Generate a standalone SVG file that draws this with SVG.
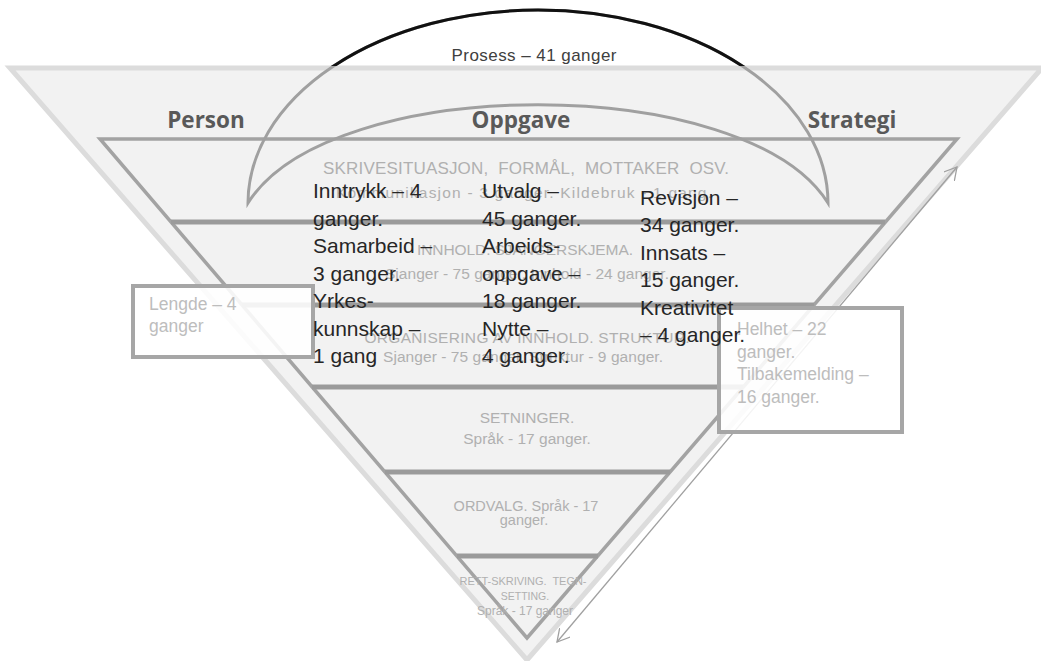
<svg xmlns="http://www.w3.org/2000/svg" width="1041" height="661" viewBox="0 0 1041 661">
  <style>
    .outer { fill: #f2f2f2; stroke: #dcdcdc; stroke-width: 5; stroke-linejoin: miter; }
    .inner { fill: #f2f2f2; stroke: #a3a3a3; stroke-width: 3.5; stroke-linejoin: miter; }
    .band { stroke: #9b9b9b; stroke-width: 5; }
    .lbl { font-family: "Liberation Sans", Arial, sans-serif; fill: #b0b0b0; text-anchor: middle; }
    .dark { font-family: "Liberation Sans", Arial, sans-serif; font-size: 21px; fill: #262626; }
    .head { font-family: "Open Sans", Lato, sans-serif; font-weight: 700; font-size: 22.5px; fill: #595959; }
    .arc { fill: none; stroke: #a0a0a0; stroke-width: 3; }
    .arc-top { fill: none; stroke: #111; stroke-width: 3; }
    .note rect { fill: #fff; fill-opacity: 0.88; stroke: #a6a6a6; stroke-width: 4; }
    .note text { font-family: "Liberation Sans", Arial, sans-serif; font-size: 17.5px; fill: #bdbdbd; }
    .link { fill: none; stroke: #a0a0a0; stroke-width: 1.3; }
  </style>
  <defs>
    <marker id="open-head" viewBox="0 0 14 14" refX="12.5" refY="7" markerWidth="14" markerHeight="14" markerUnits="userSpaceOnUse" orient="auto-start-reverse">
      <path d="M0,0 L12.5,7 L0,14" fill="none" stroke="#a0a0a0" stroke-width="1.3"/>
    </marker>
    <clipPath id="above-top">
      <rect x="0" y="0" width="1041" height="66"/>
    </clipPath>
  </defs>

  <!-- pyramid frame -->
  <g id="pyramid">
    <polygon class="outer" points="10,68 1042,68 527,660"/>
    <polygon class="inner" points="100,139 957,139 527,638"/>
    <line class="band" x1="171" y1="222" x2="885" y2="222"/>
    <line class="band" x1="242" y1="305" x2="814" y2="305"/>
    <line class="band" x1="312" y1="387" x2="743" y2="387"/>
    <line class="band" x1="385" y1="472" x2="670" y2="472"/>
    <line class="band" x1="457" y1="556" x2="598" y2="556"/>
  </g>

  <!-- level texts -->
  <g id="level-1">
    <text class="lbl" x="526" y="174" font-size="17" textLength="406" xml:space="preserve">SKRIVESITUASJON,  FORMÅL,  MOTTAKER  OSV.</text>
    <text class="lbl" x="524" y="198" font-size="15.5" textLength="376">Kommunikasjon  - 3 ganger. Kildebruk - 1 gang.</text>
  </g>
  <g id="level-2">
    <text class="lbl" x="525" y="255" font-size="15.5" textLength="216" xml:space="preserve">INNHOLD. SJANGERSKJEMA.</text>
    <text class="lbl" x="527" y="279" font-size="15.5" textLength="284">Sjanger - 75 ganger. Innhold - 24 ganger.</text>
  </g>
  <g id="level-3">
    <text class="lbl" x="527" y="343" font-size="15.5" textLength="325">ORGANISERING AV INNHOLD. STRUKTUR.</text>
    <text class="lbl" x="523" y="362" font-size="15.5" textLength="280">Sjanger - 75 ganger. Struktur - 9 ganger.</text>
  </g>
  <g id="level-4">
    <text class="lbl" x="527" y="423" font-size="15.5">SETNINGER.</text>
    <text class="lbl" x="527" y="444" font-size="15.5">Språk - 17 ganger.</text>
  </g>
  <g id="level-5">
    <text class="lbl" x="526" y="511" font-size="14.5">ORDVALG. Språk - 17</text>
    <text class="lbl" x="524" y="525" font-size="14.5">ganger.</text>
  </g>
  <g id="level-6">
    <text class="lbl" x="523" y="585" font-size="11" textLength="127" xml:space="preserve">RETT-SKRIVING.  TEGN-</text>
    <text class="lbl" x="525" y="600" font-size="10.5">SETTING.</text>
    <text class="lbl" x="525" y="615" font-size="12">Språk - 17 ganger</text>
  </g>

  <!-- process crescent -->
  <g id="prosess">
    <path class="arc" d="M248,203 A290,193 0 0 1 828,203 C746,72 330,72 248,203 Z"/>
    <path class="arc-top" clip-path="url(#above-top)" d="M248,203 A290,193 0 0 1 828,203"/>
    <text x="534" y="61" font-family="Liberation Sans, Arial, sans-serif" font-size="17" fill="#404040" text-anchor="middle" textLength="165">Prosess – 41 ganger</text>
  </g>

  <!-- connectors -->
  <g id="connectors">
    <line class="link" x1="557" y1="642" x2="957" y2="167" marker-start="url(#open-head)" marker-end="url(#open-head)"/>
  </g>

  <!-- side notes -->
  <g id="note-lengde" class="note">
    <rect x="133" y="286" width="180" height="71"/>
    <text x="149" y="310">Lengde – 4</text>
    <text x="149" y="332">ganger</text>
  </g>
  <g id="note-helhet" class="note">
    <rect x="719" y="308" width="183" height="124"/>
    <text x="737" y="335">Helhet – 22</text>
    <text x="737" y="357.7">ganger.</text>
    <text x="737" y="380.4">Tilbakemelding –</text>
    <text x="737" y="403">16 ganger.</text>
  </g>

  <!-- column headings -->
  <g id="heading-person"><text class="head" x="206" y="128" text-anchor="middle">Person</text></g>
  <g id="heading-oppgave"><text class="head" x="521" y="128" text-anchor="middle">Oppgave</text></g>
  <g id="heading-strategi"><text class="head" x="852" y="128" text-anchor="middle">Strategi</text></g>

  <!-- column entries -->
  <g id="col-person">
    <text class="dark" x="313" y="198">Inntrykk – 4</text>
    <text class="dark" x="313" y="225.5">ganger.</text>
    <text class="dark" x="313" y="253">Samarbeid –</text>
    <text class="dark" x="313" y="280.5">3 ganger.</text>
    <text class="dark" x="313" y="308">Yrkes-</text>
    <text class="dark" x="313" y="335.5">kunnskap –</text>
    <text class="dark" x="313" y="363">1 gang</text>
  </g>
  <g id="col-oppgave">
    <text class="dark" x="482" y="198">Utvalg –</text>
    <text class="dark" x="482" y="225.5">45 ganger.</text>
    <text class="dark" x="482" y="253">Arbeids-</text>
    <text class="dark" x="482" y="280.5">oppgave –</text>
    <text class="dark" x="482" y="308">18 ganger.</text>
    <text class="dark" x="482" y="335.5">Nytte –</text>
    <text class="dark" x="482" y="363">4 ganger.</text>
  </g>
  <g id="col-strategi">
    <text class="dark" x="640" y="205">Revisjon –</text>
    <text class="dark" x="640" y="232.4">34 ganger.</text>
    <text class="dark" x="640" y="259.8">Innsats –</text>
    <text class="dark" x="640" y="287.2">15 ganger.</text>
    <text class="dark" x="640" y="314.6">Kreativitet</text>
    <text class="dark" x="640" y="342">– 4 ganger.</text>
  </g>
</svg>
